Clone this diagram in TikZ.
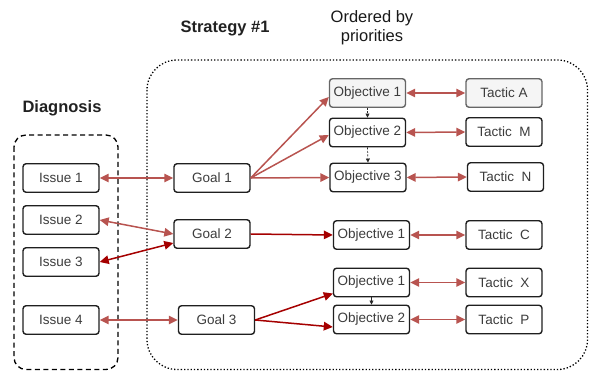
\documentclass[tikz,border=0pt]{standalone}
\usepackage{fontspec}
\setmainfont{Liberation Sans}
\usetikzlibrary{arrows.meta}
\definecolor{lightred}{HTML}{B85450}
\definecolor{darkred}{HTML}{A50000}
\definecolor{boxtext}{HTML}{3C3C3C}
\definecolor{greyfill}{HTML}{F5F5F5}
\definecolor{greyline}{HTML}{666666}
\begin{document}
\begin{tikzpicture}[x=1pt,y=-1pt,
  item/.style={draw=black!88,line width=1.4pt,rounded corners=3pt,fill=white,
    minimum width=76pt,minimum height=28.5pt,inner sep=0pt,text=boxtext,
    font=\fontsize{13.5}{15}\selectfont},
  greyitem/.style={item,draw=greyline,fill=greyfill},
  title/.style={font=\fontsize{16.5}{19}\selectfont\bfseries,text=black!87},
  link/.style={line width=1.5pt,{Triangle[length=9pt,width=8.5pt]}-{Triangle[length=9pt,width=8.5pt]}},
  softlink/.style={link,draw=lightred,fill=lightred},
  hardlink/.style={link,draw=darkred,fill=darkred},
  feed/.style={line width=1.5pt,-{Triangle[length=9pt,width=8.5pt]}},
  order/.style={line width=0.7pt,black!85,-{Triangle[length=4pt,width=4pt]}}
]
\useasboundingbox (0,0) rectangle (589,371);

% group frames
\draw[line width=1.3pt,dash pattern=on 5pt off 3.5pt,rounded corners=12pt]
  (14,135) rectangle (118,369.5);
\draw[line width=1.3pt,dotted,rounded corners=30pt]
  (147,60) rectangle (587.5,369.5);

% headings
\node[title] (hdiag) at (62,108) {Diagnosis};
\node[title] (hstrat) at (225,28) {Strategy \#1};
\node[font=\fontsize{16.5}{19}\selectfont,text=black!90,align=center] (hprio) at (372,28)
  {Ordered by\\priorities};

% issues
\node[item] (i1) at (61,178) {Issue 1};
\node[item] (i2) at (61,220) {Issue 2};
\node[item] (i3) at (61,262) {Issue 3};
\node[item] (i4) at (61,320) {Issue 4};

% goals
\node[item] (g1) at (212,178) {Goal 1};
\node[item] (g2) at (212,234) {Goal 2};
\node[item] (g3) at (216.5,320) {Goal 3};

% objectives
\node[greyitem] (oa1) at (367.5,93) {Objective 1};
\node[item] (oa2) at (367.5,132.5) {Objective 2};
\node[item] (oa3) at (368,177.5) {Objective 3};
\node[item] (ob1) at (371.5,235) {Objective 1};
\node[item] (oc1) at (371.5,282.5) {Objective 1};
\node[item] (oc2) at (371.5,319.5) {Objective 2};

% tactics
\node[greyitem] (ta) at (504,93) {Tactic A};
\node[item] (tm) at (504,132) {Tactic~ M};
\node[item] (tn) at (505.5,177) {Tactic~ N};
\node[item] (tc) at (504,235) {Tactic~ C};
\node[item] (tx) at (504,282.5) {Tactic~ X};
\node[item] (tp) at (504,319.5) {Tactic~ P};

% issue <-> goal links
\draw[softlink] (i1.east) -- (g1.west);
\draw[softlink] (i2.east) -- (g2.west);
\draw[hardlink] (i3.east) -- ([yshift=-9pt]g2.west);
\draw[softlink] (i4.east) -- (g3.west);

% goal -> objective links
\draw[feed,lightred] (g1.east) -- ([yshift=-4pt]oa1.west);
\draw[feed,lightred] (g1.east) -- ([yshift=-2.5pt]oa2.west);
\draw[feed,lightred] (g1.east) -- (oa3.west);
\draw[feed,darkred] (g2.east) -- (ob1.west);
\draw[feed,darkred] (g3.east) -- ([yshift=-11pt]oc1.west);
\draw[feed,darkred] (g3.east) -- ([yshift=-7.5pt]oc2.west);

% objective <-> tactic links
\draw[softlink] (oa1.east) -- (ta.west);
\draw[softlink] (oa2.east) -- (tm.west);
\draw[softlink] (oa3.east) -- (tn.west);
\draw[softlink] (ob1.east) -- (tc.west);
\draw[softlink] (oc1.east) -- (tx.west);
\draw[softlink] (oc2.east) -- (tp.west);

% priority order between objectives
\draw[order,dash pattern=on 2pt off 1.5pt] (oa1.south) -- (oa2.north);
\draw[order,dash pattern=on 2pt off 1.5pt] (oa2.south) -- (oa3.north);
\draw[order] (oc1.south) -- (oc2.north);
\end{tikzpicture}
\end{document}
